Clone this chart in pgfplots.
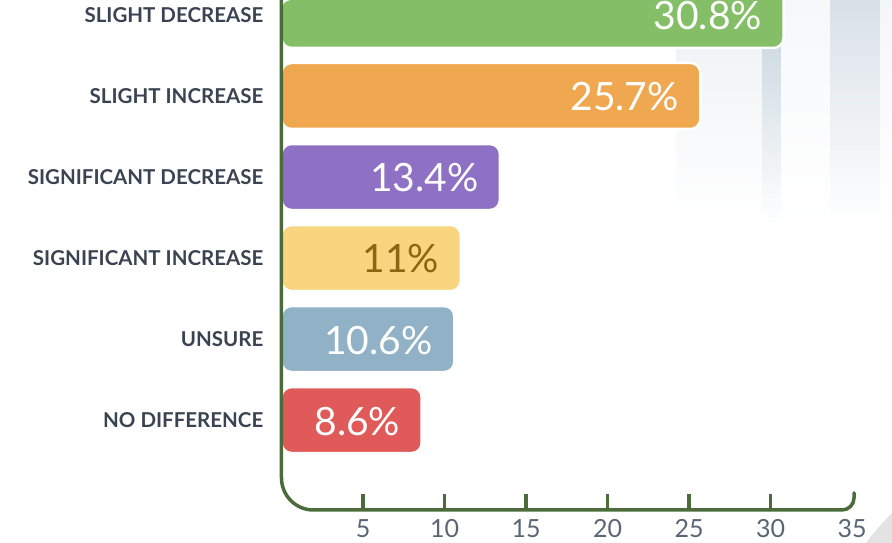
\documentclass[border=0pt]{standalone}
\usepackage{pgfplots}
\pgfplotsset{compat=1.18}
\usepackage{fontspec}
\setmainfont{Lato}
\definecolor{cGreen}{HTML}{84BF68}
\definecolor{cOrange}{HTML}{EFA84F}
\definecolor{cPurple}{HTML}{8E70C4}
\definecolor{cYellow}{HTML}{F8D57E}
\definecolor{cBlue}{HTML}{90B1C6}
\definecolor{cRed}{HTML}{E05A5A}
\definecolor{cAxis}{HTML}{4B6B3A}
\definecolor{cLabel}{HTML}{3A4351}
\definecolor{cTick}{HTML}{5A6676}
\definecolor{cGold}{HTML}{8E6512}
\definecolor{cStripeA}{HTML}{EDF1F4}
\definecolor{cStripeB}{HTML}{C4D2DC}
\definecolor{cStripeC}{HTML}{D9E1E8}
\begin{document}
\begin{tikzpicture}
\path[use as bounding box] (0pt,0pt) rectangle (892pt,543pt);
% decorative background
\shade[top color=cStripeA, bottom color=white] (676pt,318pt) rectangle (762pt,543pt);
\shade[top color=cStripeB, bottom color=white] (762pt,318pt) rectangle (781pt,543pt);
\shade[top color=cStripeA!50, bottom color=white] (781pt,318pt) rectangle (830pt,543pt);
\shade[top color=cStripeC, bottom color=white] (830pt,318pt) rectangle (880pt,543pt);
\shade[top color=cStripeA!60, bottom color=white] (880pt,318pt) rectangle (892pt,543pt);
\fill[gray!22] (892pt,30pt) .. controls (880pt,18pt) and (872pt,8pt) .. (866pt,0pt) -- (892pt,0pt) -- cycle;
\begin{axis}[
  at={(281.5pt,33pt)}, anchor=south west, scale only axis,
  width=570.5pt, height=510pt,
  xmin=0, xmax=35, ymin=-1.11, ymax=5.185,
  x coord trafo/.code={\pgfmathparse{#1+1}},
  x coord inv trafo/.code={\pgfmathparse{#1-1}},
  xbar, bar width=66pt, bar shift=0pt,
  axis x line=bottom, axis y line=left,
  axis line style={draw=none},
  xtick={5,10,15,20,25,30},
  xticklabels={5,10,15,20,25,30},
  extra x ticks={35}, extra x tick labels={35},
  extra x tick style={major tick length=0pt},
  xtick align=inside, major tick length=16pt,
  x tick style={cAxis, line width=3.5pt},
  xticklabel style={font=\fontsize{25}{27}\selectfont, text=cTick, inner sep=0pt, anchor=north, yshift=-9pt},
  ytick={0,1,2,3,4,5},
  yticklabels={NO DIFFERENCE,UNSURE,SIGNIFICANT INCREASE,SIGNIFICANT DECREASE,SLIGHT INCREASE,SLIGHT DECREASE},
  y tick style={draw=none}, 
  yticklabel style={font=\bfseries\fontsize{20.5}{22}\selectfont, text=cLabel, inner sep=0pt, anchor=east, xshift=-10pt},
  nodes near coords, point meta=explicit symbolic,
  every node near coord/.append style={anchor=east, xshift=-17pt, yshift=-1pt, text=white, font=\fontsize{39}{41}\selectfont},
  clip mode=individual,
]
\addplot[fill=cGreen, draw=white, line width=2.5pt, rounded corners=10pt] coordinates {(30.8,5) [30.8\%]};
\addplot[fill=cOrange, draw=white, line width=2.5pt, rounded corners=10pt] coordinates {(25.7,4) [25.7\%]};
\addplot[fill=cPurple, draw=white, line width=2.5pt, rounded corners=10pt] coordinates {(13.4,3) [13.4\%]};
\addplot[fill=cYellow, draw=white, line width=2.5pt, rounded corners=10pt, every node near coord/.append style={text=cGold}] coordinates {(11,2) [11\%]};
\addplot[fill=cBlue, draw=white, line width=2.5pt, rounded corners=10pt] coordinates {(10.6,1) [10.6\%]};
\addplot[fill=cRed, draw=white, line width=2.5pt, rounded corners=10pt] coordinates {(8.6,0) [8.6\%]};
\draw[cAxis, line width=3.5pt, line cap=round] (rel axis cs:0,1.02) [rounded corners=32pt] -- (rel axis cs:0,0) [rounded corners=12pt] -- ([xshift=2pt]rel axis cs:1,0) -- ([xshift=2pt,yshift=17pt]rel axis cs:1,0);
\end{axis}
\end{tikzpicture}
\end{document}
